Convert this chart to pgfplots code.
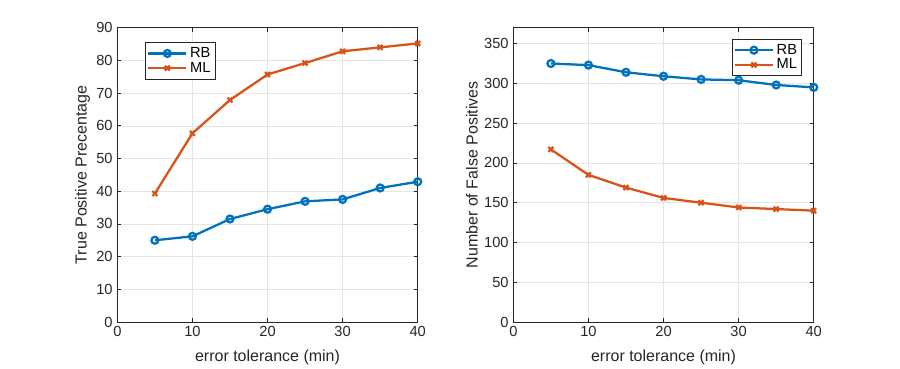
\documentclass[border=0pt]{standalone}
\usepackage{fontspec}
\setmainfont{Liberation Sans}
\usepackage{pgfplots}
\pgfplotsset{compat=1.18}

\definecolor{mblue}{rgb}{0,0.447,0.741}
\definecolor{mred}{rgb}{0.850,0.325,0.098}
\definecolor{axgray}{rgb}{0.15,0.15,0.15}

\pgfplotsset{
  mstyle/.style={
    scale only axis, width=225.3pt, height=220.7pt,
    anchor=south west,
    xmin=0, xmax=40, xtick={0,10,...,40},
    grid=major, grid style={gray!20, line width=0.4pt},
    axis line style={axgray, line width=0.5pt},
    tick style={axgray, line width=0.5pt}, tick align=inside,
    major tick length=3pt,
    ticklabel style={font=\fontsize{11}{12}\selectfont, text=axgray},
    /pgf/number format/assume math mode=true,
    label style={font=\fontsize{12}{13}\selectfont, text=axgray},
    xlabel={error tolerance (min)},
    xlabel style={yshift=-3pt},
    ylabel style={yshift=-2pt},
    legend style={font=\fontsize{11}{12}\selectfont, draw=axgray,
      inner sep=1.5pt, row sep=-2pt, cells={anchor=west}},
    legend image code/.code={
      \draw[line width=1.7pt, mark repeat=2, mark phase=2]
        plot coordinates {(0cm,0cm) (0.5cm,0cm) (1.0cm,0cm)};},
    every axis plot/.append style={line width=1.7pt, mark size=2.6pt},
  }
}

\begin{document}
\begin{tikzpicture}
\path[use as bounding box] (0,0) rectangle (675pt,276pt);

\begin{axis}[mstyle, at={(88pt,34.5pt)},
  ymin=0, ymax=90, ytick={0,10,...,90},
  ylabel={True Positive Precentage},
  legend style={at={(0.092,0.95)}, anchor=north west}]
\addplot[mblue, mark=o] coordinates {
(5,25) (10,26.2) (15,31.5) (20,34.5) (25,36.9) (30,37.5) (35,41) (40,42.9)};
\addlegendentry{RB}
\addplot[mred, mark=x] coordinates {
(5,39.3) (10,57.7) (15,67.9) (20,75.7) (25,79.2) (30,82.8) (35,84) (40,85.2)};
\addlegendentry{ML}
\end{axis}

\begin{axis}[mstyle, at={(385pt,34.5pt)},
  ymin=0, ymax=370, ytick={0,50,...,350},
  ylabel={Number of False Positives},
  legend style={at={(0.961,0.961)}, anchor=north east}]
\addplot[mblue, mark=o] coordinates {
(5,325) (10,323) (15,314) (20,309) (25,305) (30,304) (35,298) (40,295)};
\addlegendentry{RB}
\addplot[mred, mark=x] coordinates {
(5,217) (10,185) (15,169) (20,156) (25,150) (30,144) (35,142) (40,140)};
\addlegendentry{ML}
\end{axis}
\end{tikzpicture}
\end{document}
